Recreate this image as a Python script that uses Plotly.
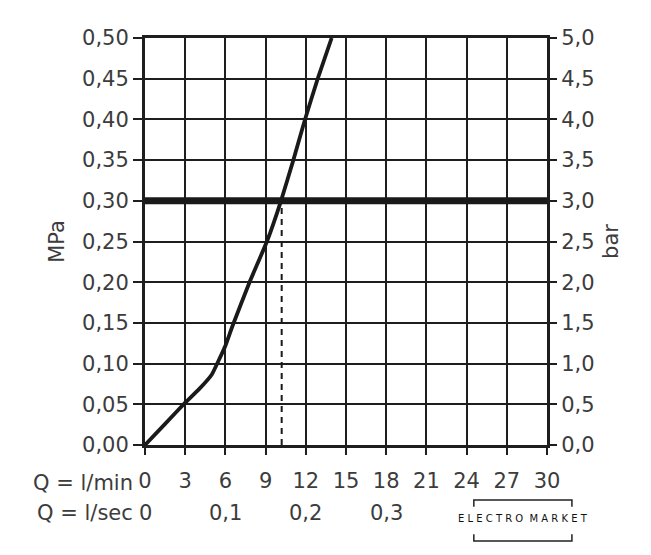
import plotly.graph_objects as go

# Data
flow_lmin = [0, 1.5, 3, 4, 5, 6, 6.5, 7.8, 9.1, 10.15, 11.07, 11.94, 12.89, 13.93]
pressure_mpa = [0, 0.026, 0.052, 0.068, 0.087, 0.122, 0.145, 0.20, 0.25, 0.30, 0.35, 0.40, 0.45, 0.50]
rated_pressure = 0.30
rated_flow = 10.2
x_ticks = [0, 3, 6, 9, 12, 15, 18, 21, 24, 27, 30]
sec_ticks = [0, 0.1, 0.2, 0.3]
sec_labels = ["0", "0,1", "0,2", "0,3"]
mpa_ticks = [0, 0.05, 0.10, 0.15, 0.20, 0.25, 0.30, 0.35, 0.40, 0.45, 0.50]
bar_ticks = [0, 0.5, 1.0, 1.5, 2.0, 2.5, 3.0, 3.5, 4.0, 4.5, 5.0]

FONT = "'DejaVu Sans', sans-serif"
TXT = "#3c3c3c"
GRID = "#1e1e1e"
FS = 21

fig = go.Figure()

fig.add_trace(go.Scatter(x=[0, 30], y=[rated_pressure, rated_pressure], mode="lines",
                         line=dict(color="#1a1a1a", width=7), showlegend=False, hoverinfo="skip"))
fig.add_trace(go.Scatter(x=[rated_flow, rated_flow], y=[0, rated_pressure], mode="lines",
                         line=dict(color="#1a1a1a", width=2, dash="6px,5px"), showlegend=False, hoverinfo="skip"))
fig.add_trace(go.Scatter(x=flow_lmin, y=pressure_mpa, mode="lines",
                         line=dict(color="#1a1a1a", width=3.8, shape="spline", smoothing=0.3),
                         showlegend=False, hoverinfo="skip"))
fig.add_trace(go.Scatter(x=[0, 30], y=[0, 5], yaxis="y2", mode="markers", marker=dict(opacity=0),
                         showlegend=False, hoverinfo="skip"))

fig.update_layout(
    width=643, height=547,
    margin=dict(l=137, r=104, t=30, b=110, autoexpand=False),
    paper_bgcolor="white", plot_bgcolor="white",
    separators=",.",
    font=dict(family=FONT, size=FS, color=TXT),
    xaxis=dict(range=[0, 30], tickvals=x_ticks, ticks="outside", ticklen=7, tickwidth=2, tickcolor=GRID,
               showgrid=True, gridcolor=GRID, gridwidth=2, showline=True, linecolor=GRID, linewidth=3,
               mirror=True, zeroline=False, tickfont=dict(size=FS, color=TXT), automargin=False,
               ticklabelstandoff=8),
    yaxis=dict(range=[0, 0.5], tickvals=mpa_ticks, tickformat=".2f", ticks="outside", ticklen=9, tickwidth=2,
               tickcolor=GRID, showgrid=True, gridcolor=GRID, gridwidth=2, showline=True, linecolor=GRID,
               linewidth=3, zeroline=False, tickfont=dict(size=FS, color=TXT), automargin=False,
               title=dict(text="MPa", standoff=12, font=dict(size=FS, color=TXT))),
    yaxis2=dict(range=[0, 5], tickvals=bar_ticks, tickformat=".1f", overlaying="y", side="right",
                ticks="outside", ticklen=7, tickwidth=2, tickcolor=GRID, showgrid=False, showline=True,
                linecolor=GRID, linewidth=3, zeroline=False, tickfont=dict(size=FS, color=TXT), automargin=False,
                title=dict(text="bar", standoff=10, font=dict(size=FS, color=TXT))),
)

fig.add_annotation(x=0, y=0, xref="x", yref="paper", yshift=-38, xshift=-10, text="Q = l/min",
                   showarrow=False, xanchor="right", yanchor="middle", font=dict(size=FS, color=TXT))
fig.add_annotation(x=0, y=0, xref="x", yref="paper", yshift=-68, xshift=-10, text="Q = l/sec",
                   showarrow=False, xanchor="right", yanchor="middle", font=dict(size=FS, color=TXT))
for v, lab in zip(sec_ticks, sec_labels):
    fig.add_annotation(x=v * 60, y=0, xref="x", yref="paper", yshift=-68, text=lab,
                       showarrow=False, xanchor="center", yanchor="middle", font=dict(size=FS, color=TXT))

# watermark
fig.add_annotation(x=0.940, y=-0.181, xref="paper", yref="paper", xanchor="center", yanchor="middle",
                   text="E L E C T R O  M A R K E T", showarrow=False,
                   font=dict(family="DejaVu Sans, sans-serif", size=10, color="#111"))
fig.add_shape(type="path", xref="paper", yref="paper",
              path="M 0.818,-0.152 L 0.818,-0.135 L 1.062,-0.135 L 1.062,-0.152",
              line=dict(color="#222", width=1.5))
fig.add_shape(type="path", xref="paper", yref="paper",
              path="M 0.818,-0.219 L 0.818,-0.236 L 1.062,-0.236 L 1.062,-0.219",
              line=dict(color="#222", width=1.5))

fig.write_html("out.html")
